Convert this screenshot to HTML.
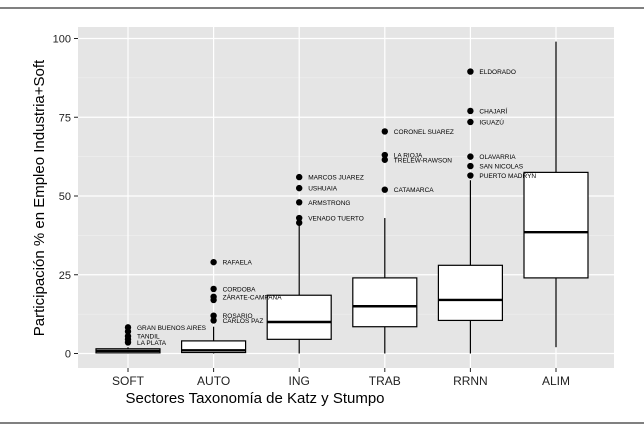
<!DOCTYPE html>
<html><head><meta charset="utf-8"><style>
body{margin:0;background:#fff;}
svg{display:block;font-family:"Liberation Sans",sans-serif;}
</style></head><body>
<svg width="644" height="431">
<line x1="0" y1="8" x2="644" y2="8" stroke="#000" stroke-width="1"/>
<line x1="0" y1="423" x2="644" y2="423" stroke="#000" stroke-width="1"/>
<rect x="78" y="27" width="536" height="341" fill="#e5e5e5"/>
<g id="grid"></g><g id="marks"></g><g id="labels"></g><g id="axes"></g>
<text x="255" y="403" font-size="15" text-anchor="middle">Sectores Taxonomía de Katz y Stumpo</text>
<text transform="translate(44,198) rotate(-90)" font-size="15" text-anchor="middle">Participación % en Empleo Industria+Soft</text>
</svg>
<script>
const categories=["SOFT","AUTO","ING","TRAB","RRNN","ALIM"];
const mins=[0,0,0,0,0,2];
const q1s=[0.2,0.3,4.5,8.5,10.5,24];
const medians=[0.8,1,10,15,17,38.5];
const q3s=[1.5,4,18.5,24,28,57.5];
const maxs=[2,8.5,41,43,55,99];
const outliers=[[8.3,7,5.5,4.5,3.5],[29,20.5,18,17,12,10.5],[56,52.5,48,43,41.5],[70.5,63,61.5,52],[89.5,77,73.5,62.5,59.5,56.5],[]];
const outlierLabels=[["GRAN BUENOS AIRES","","TANDIL","","LA PLATA"],["RAFAELA","CORDOBA","ZÁRATE-CAMPANA","","ROSARIO","CARLOS PAZ"],["MARCOS JUAREZ","USHUAIA","ARMSTRONG","VENADO TUERTO",""],["CORONEL SUAREZ","LA RIOJA","TRELEW-RAWSON","CATAMARCA"],["ELDORADO","CHAJARÍ","IGUAZÚ","OLAVARRIA","SAN NICOLAS","PUERTO MADRYN"],[]];
const yTicks=[0,25,50,75,100];
const NS="http://www.w3.org/2000/svg";
const y=v=>353.5-v*3.15;
const x=i=>128+i*85.6;
function mk(t,a,p){const e=document.createElementNS(NS,t);for(const k in a)e.setAttribute(k,a[k]);p.appendChild(e);return e;}
const grid=document.getElementById('grid'),marks=document.getElementById('marks'),labels=document.getElementById('labels'),axes=document.getElementById('axes');
for(let k=0;k<yTicks.length-1;k++){const l=mk('line',{x1:78,x2:614,y1:y((yTicks[k]+yTicks[k+1])/2),y2:y((yTicks[k]+yTicks[k+1])/2),stroke:'#f2f2f2','stroke-width':0.6},grid);

}
yTicks.forEach(t=>{const l=mk('line',{x1:78,x2:614,y1:y(t),y2:y(t),stroke:'#fff','stroke-width':1.2},grid);


const tk=mk('line',{x1:74,x2:78,y1:y(t),y2:y(t),stroke:'#222'},axes);


const tx=mk('text',{x:71,y:y(t)+4,'font-size':11,'text-anchor':'end',fill:'#222'},axes);tx.textContent=t;

});
categories.forEach((c,i)=>{const l=mk('line',{x1:x(i),x2:x(i),y1:27,y2:368,stroke:'#fff','stroke-width':1.2},grid);


const tk=mk('line',{x1:x(i),x2:x(i),y1:368,y2:372,stroke:'#222'},axes);


const tx=mk('text',{x:x(i),y:385,'font-size':12,'text-anchor':'middle',fill:'#222'},axes);tx.textContent=c;


const g=mk('g',{},marks);


const w=32;
mk('line',{x1:x(i),x2:x(i),y1:y(mins[i]),y2:y(q1s[i]),stroke:'#000','stroke-width':1.2},g);
mk('line',{x1:x(i),x2:x(i),y1:y(q3s[i]),y2:y(maxs[i]),stroke:'#000','stroke-width':1.2},g);
mk('rect',{x:x(i)-w,y:y(q3s[i]),width:2*w,height:Math.max(y(q1s[i])-y(q3s[i]),0.5),fill:'#fff',stroke:'#000','stroke-width':1.2},g);
mk('line',{x1:x(i)-w,x2:x(i)+w,y1:y(medians[i]),y2:y(medians[i]),stroke:'#000','stroke-width':2.4},g);
outliers[i].forEach((v,j)=>{const d=mk('circle',{cx:x(i),cy:y(v),r:3.2,fill:'#000'},marks);


const lb=outlierLabels[i][j];if(lb){const t=mk('text',{x:x(i)+9,y:y(v)+2.5,'font-size':6.5,fill:'#000'},labels);t.textContent=lb;

}});
});
</script>
</body></html>
